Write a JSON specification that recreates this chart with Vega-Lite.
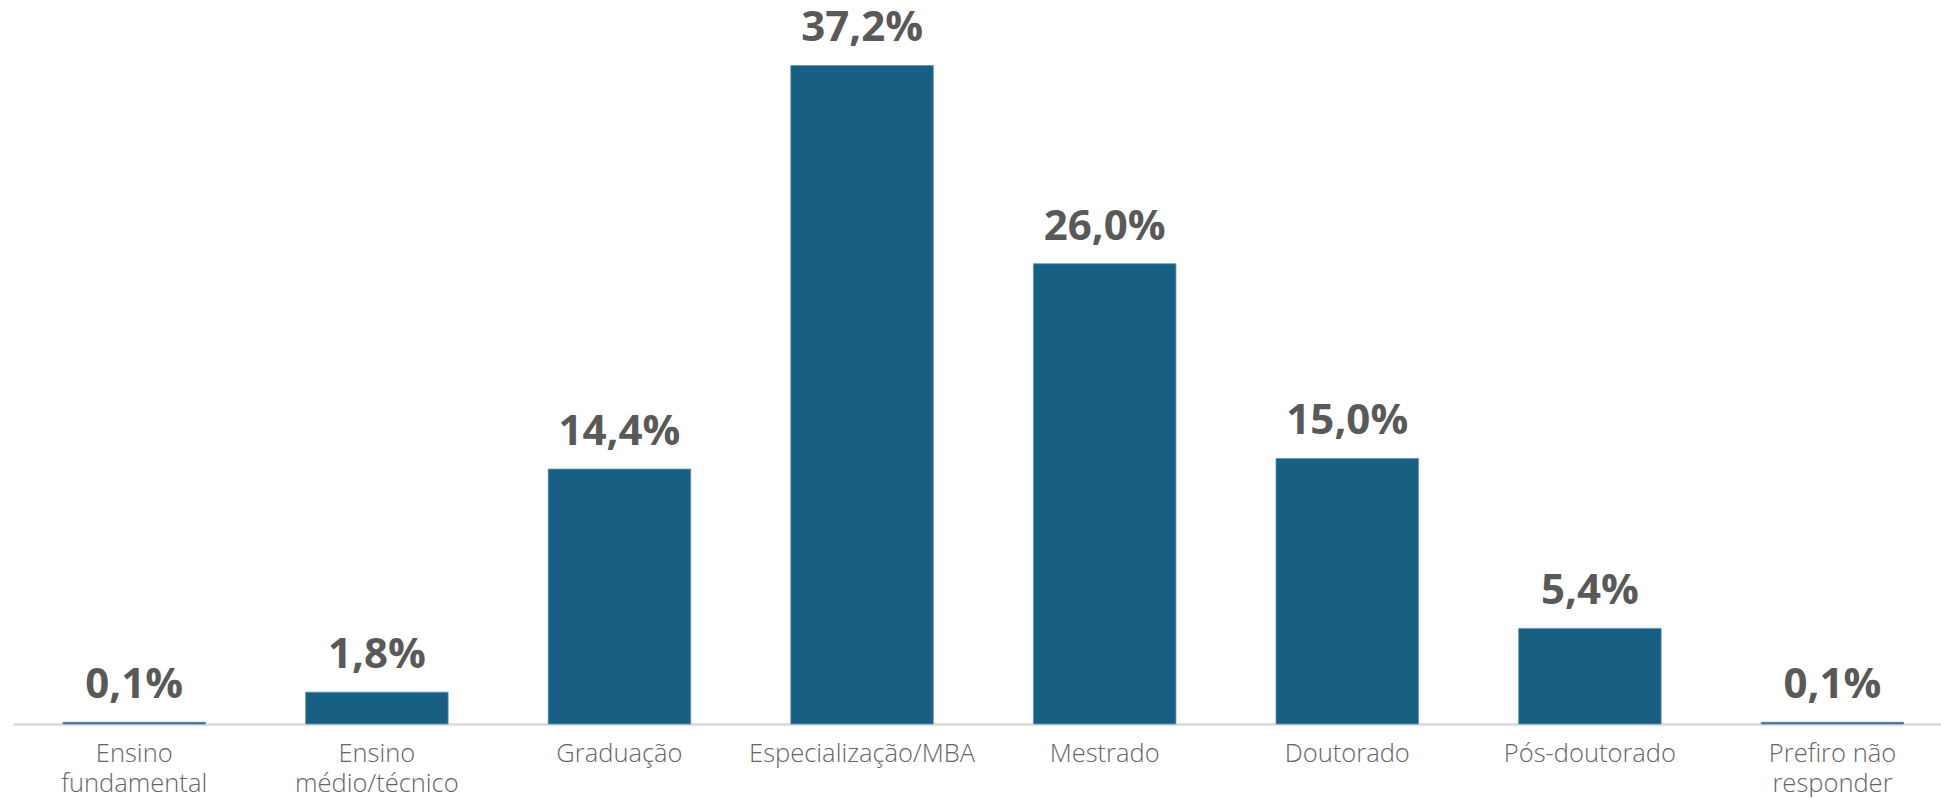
{
  "$schema": "https://vega.github.io/schema/vega-lite/v6.json",
  "width": 1928,
  "height": 724,
  "padding": {"left": 13, "top": 0, "right": 0, "bottom": 0},
  "background": "white",
  "config": {
    "view": {"stroke": null},
    "locale": {"number": {"decimal": ",", "thousands": ".", "grouping": [3], "currency": ["R$", ""]}}
  },
  "data": {
    "values": [
      {"categoria": "Ensino fundamental", "pct": 0.001},
      {"categoria": "Ensino médio/técnico", "pct": 0.018},
      {"categoria": "Graduação", "pct": 0.144},
      {"categoria": "Especialização/MBA", "pct": 0.372},
      {"categoria": "Mestrado", "pct": 0.26},
      {"categoria": "Doutorado", "pct": 0.15},
      {"categoria": "Pós-doutorado", "pct": 0.054},
      {"categoria": "Prefiro não responder", "pct": 0.001}
    ]
  },
  "encoding": {
    "x": {
      "field": "categoria",
      "type": "nominal",
      "sort": null,
      "scale": {"paddingInner": 0.4126, "paddingOuter": 0.1798, "align": 0.573},
      "axis": {
        "title": null,
        "ticks": false,
        "domainColor": "#d9d9d9",
        "domainWidth": 2.5,
        "labelAngle": 0,
        "labelFont": "Open Sans",
        "labelFontWeight": 300,
        "labelFontSize": 25.5,
        "labelColor": "#666666",
        "labelPadding": 17,
        "labelLineHeight": 30,
        "labelLimit": 400,
        "labelExpr": "datum.label == 'Ensino fundamental' ? ['Ensino', 'fundamental'] : datum.label == 'Ensino médio/técnico' ? ['Ensino', 'médio/técnico'] : datum.label == 'Prefiro não responder' ? ['Prefiro não', 'responder'] : datum.label"
      }
    },
    "y": {
      "field": "pct",
      "type": "quantitative",
      "scale": {"domain": [0, 0.409], "nice": false, "zero": true},
      "axis": null
    }
  },
  "layer": [
    {"mark": {"type": "bar", "color": "#175F83", "stroke": "#5E93AE", "strokeWidth": 0.8}},
    {
      "mark": {"type": "text", "baseline": "alphabetic", "dy": -24, "font": "Open Sans", "fontWeight": "bold", "fontSize": 42, "color": "#595959"},
      "encoding": {"text": {"field": "pct", "type": "quantitative", "format": ".1%"}}
    }
  ]
}
